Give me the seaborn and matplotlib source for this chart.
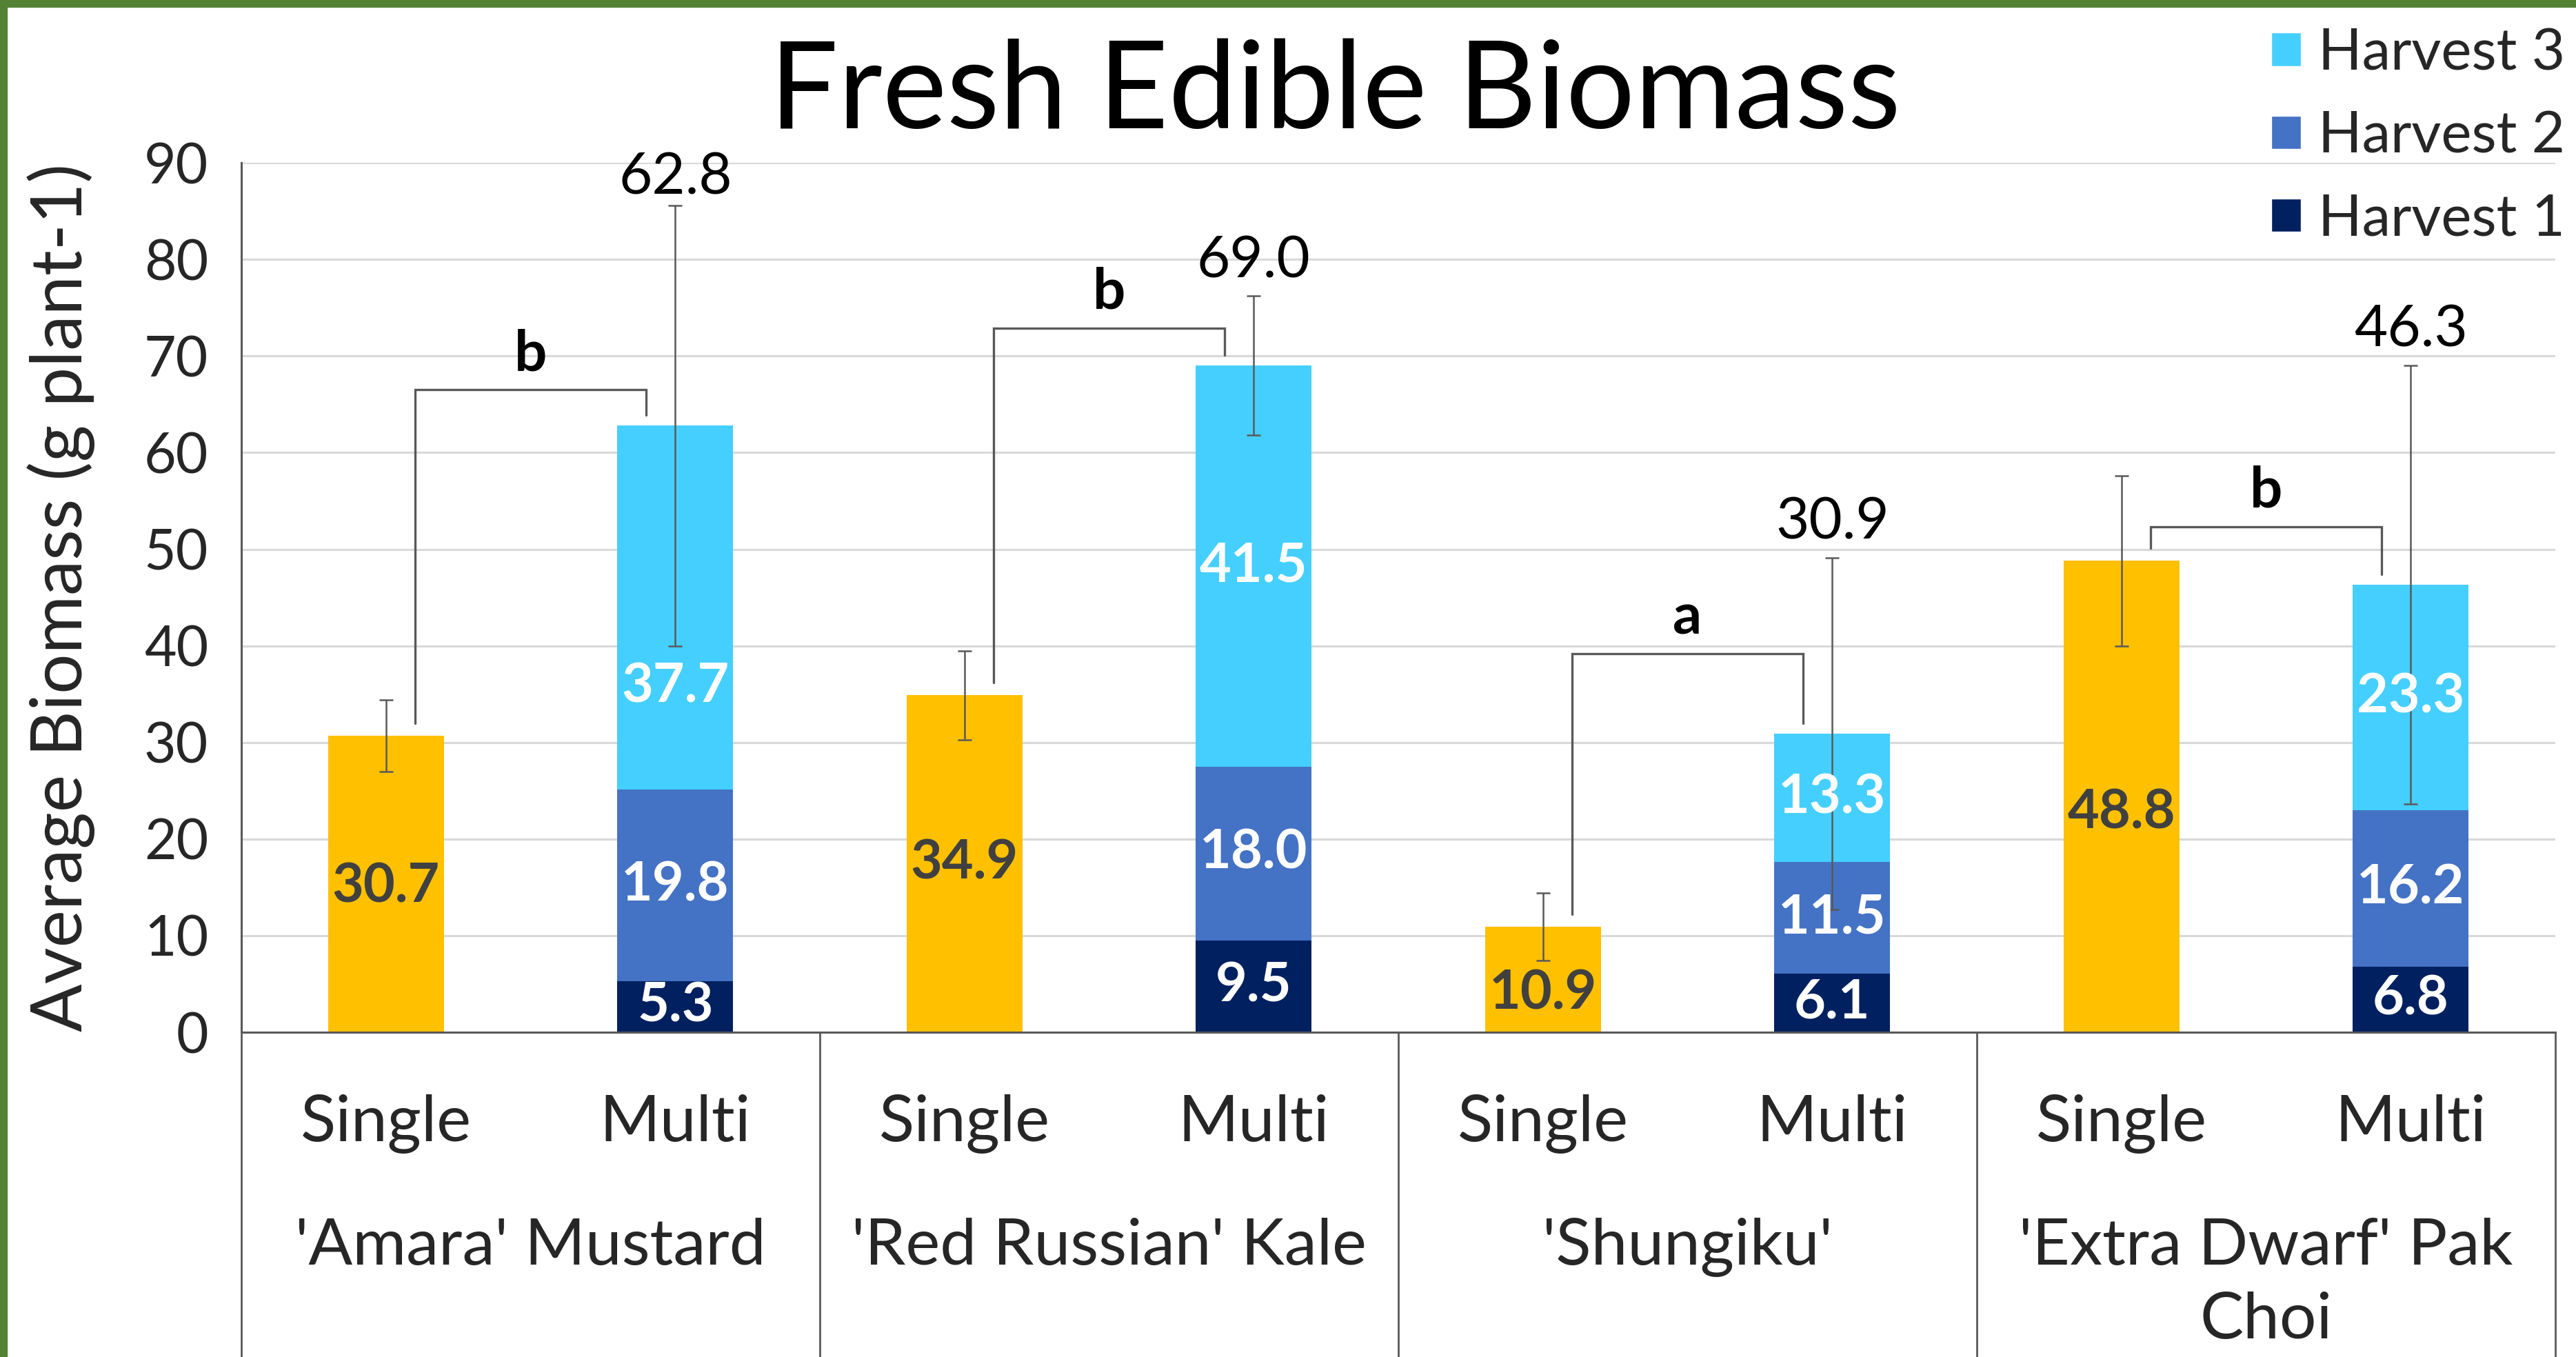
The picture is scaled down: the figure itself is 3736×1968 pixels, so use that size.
import numpy as np
import pandas as pd
import matplotlib
matplotlib.use("Agg")
import matplotlib.pyplot as plt
import matplotlib.transforms as mtransforms
from matplotlib.patches import Patch, Rectangle
from matplotlib.ticker import MultipleLocator
import seaborn as sns

# data
groups = ["'Amara' Mustard", "'Red Russian' Kale", "'Shungiku'", "'Extra Dwarf' Pak\nChoi"]
treatments = ["Single", "Multi"]
single = [30.7, 34.9, 10.9, 48.8]
single_err = [3.7, 4.6, 3.5, 8.8]
harvest1 = [5.3, 9.5, 6.1, 6.8]
harvest2 = [19.8, 18.0, 11.5, 16.2]
harvest3 = [37.7, 41.5, 13.3, 23.3]
multi_err = [22.8, 7.2, 18.2, 22.7]
letters = ["b", "b", "a", "b"]
bracket_top = [66.5, 72.9, 39.2, 52.3]
yticks = list(range(0, 91, 10))
legend_labels = ["Harvest 3", "Harvest 2", "Harvest 1"]

# label nudges (the original has a few labels moved by hand)
single_nudge = [-0.3, 0.0, -1.5, -1.7]
h3_nudge = [-8.2, 0.0, 0.0, 0.0]
total_nudge = [-0.8, 0.0, 0.0, 0.0]

c_single = "#FFC000"
c_h1 = "#002060"
c_h2 = "#4472C4"
c_h3 = "#45CFFF"
c_axis = "#595959"
c_grid = "#D9D9D9"

sns.set_style("white")
plt.rcParams["font.family"] = ["Lato", "DejaVu Sans"]

slots = [f"{i}|{t}" for i in range(len(groups)) for t in treatments]

single_df = pd.DataFrame({"slot": [f"{i}|Single" for i in range(len(groups))], "value": single})
multi_df = pd.DataFrame({"slot": [f"{i}|Multi" for i in range(len(groups))],
                         "h1": harvest1, "h2": harvest2, "h3": harvest3})
multi_df["top2"] = multi_df["h1"] + multi_df["h2"]
multi_df["total"] = multi_df["top2"] + multi_df["h3"]

fig = plt.figure(figsize=(37.37, 19.68), dpi=100)
ax = fig.add_axes([0.0937, 0.2393, 0.8980, 0.6407])

bar_kw = dict(order=slots, width=0.4, saturation=1, errorbar=None, linewidth=0, ax=ax)
sns.barplot(data=single_df, x="slot", y="value", color=c_single, **bar_kw)
for col, c in [("total", c_h3), ("top2", c_h2), ("h1", c_h1)]:
    sns.barplot(data=multi_df, x="slot", y=col, color=c, **bar_kw)

xs_single = np.array([slots.index(s) for s in single_df["slot"]])
xs_multi = np.array([slots.index(s) for s in multi_df["slot"]])
totals = multi_df["total"].values

# error bars
ax.errorbar(xs_single, single, yerr=single_err, fmt="none", ecolor=c_axis,
            elinewidth=1.8, capsize=7, capthick=1.8, zorder=5)
ax.errorbar(xs_multi, totals, yerr=multi_err, fmt="none", ecolor=c_axis,
            elinewidth=1.8, capsize=7, capthick=1.8, zorder=5)

# value labels
lab_kw = dict(ha="center", va="center", fontsize=57, fontweight="bold", zorder=6)
for i in range(len(groups)):
    xs, xm = xs_single[i], xs_multi[i]
    ax.text(xs, single[i] / 2 + single_nudge[i], f"{single[i]:.1f}", color="#404040", **lab_kw)
    h1, h2, h3 = harvest1[i], harvest2[i], harvest3[i]
    ax.text(xm, h1 / 2, f"{h1:.1f}", color="white", **lab_kw)
    ax.text(xm, h1 + h2 / 2, f"{h2:.1f}", color="white", **lab_kw)
    ax.text(xm, h1 + h2 + h3 / 2 + h3_nudge[i], f"{h3:.1f}", color="white", **lab_kw)
    ax.text(xm, totals[i] + multi_err[i] + 3.6 + total_nudge[i], f"{totals[i]:.1f}",
            ha="center", va="center", fontsize=60, color="black", zorder=6, clip_on=False)

    # significance brackets
    left, right = xs + 0.1, xm - 0.1
    top = bracket_top[i]
    ax.plot([left, left, right, right], [single[i] + 1.3, top, top, totals[i] + 1.1],
            color=c_axis, lw=2.4, zorder=4, solid_joinstyle="miter")
    ax.text((xs + xm) / 2, top + 3.7, letters[i], ha="center", va="center",
            fontsize=60, fontweight="bold", color="black", zorder=6)

# axes styling
ax.set_xlim(-0.5, len(slots) - 0.5)
ax.set_ylim(0, 90)
ax.set_yticks(yticks)
ax.yaxis.set_minor_locator(MultipleLocator(5))
ax.set_xticks([])
ax.set_xlabel("")
ax.yaxis.grid(True, which="major", color=c_grid, lw=2.2, zorder=0)
ax.set_axisbelow(True)
ax.tick_params(axis="y", which="both", direction="inout", length=29, width=1.8,
               color=c_axis, labelsize=58, pad=20)
for s in ["top", "right"]:
    ax.spines[s].set_visible(False)
for s in ["left", "bottom"]:
    ax.spines[s].set_color(c_axis)
    ax.spines[s].set_linewidth(2.2)
ax.set_ylabel("Average Biomass (g plant-1)", fontsize=74)
ax.yaxis.set_label_coords(-0.0633, 0.5)

# category table under the axis
trans = mtransforms.blended_transform_factory(ax.transData, ax.transAxes)
for xb in np.arange(-0.5, len(slots), 2):
    ax.plot([xb, xb], [0, -0.5], transform=trans, color=c_axis, lw=2.0, clip_on=False)
ftrans = mtransforms.blended_transform_factory(ax.transData, fig.transFigure)
for i, s in enumerate(slots):
    ax.text(i, 0.159, s.split("|")[1], transform=ftrans, ha="center", va="baseline", fontsize=68)
for i, g in enumerate(groups):
    for k, line in enumerate(g.split("\n")):
        ax.text(2 * i + 0.5, 0.068 - 0.0544 * k, line, transform=ftrans, ha="center",
                va="baseline", fontsize=68)

# title and legend
fig.text(0.518, 0.931, "Fresh Edible Biomass", ha="center", va="center", fontsize=127,
         color="black")
handles = [Patch(facecolor=c) for c in (c_h3, c_h2, c_h1)]
fig.legend(handles, legend_labels, loc="upper right", bbox_to_anchor=(1.0, 0.988),
           frameon=False, fontsize=60, handlelength=0.52, handleheight=0.52,
           handletextpad=0.3, labelspacing=0.53, borderpad=0.2, borderaxespad=0)

# green frame edges visible on the left and top
fig.patches.append(Rectangle((0, 0), 10 / 3737, 1, transform=fig.transFigure,
                             color="#548235", zorder=10))
fig.patches.append(Rectangle((0, 1 - 10 / 1968), 1, 10 / 1968, transform=fig.transFigure,
                             color="#548235", zorder=10))

fig.savefig("out.png", dpi=100)
